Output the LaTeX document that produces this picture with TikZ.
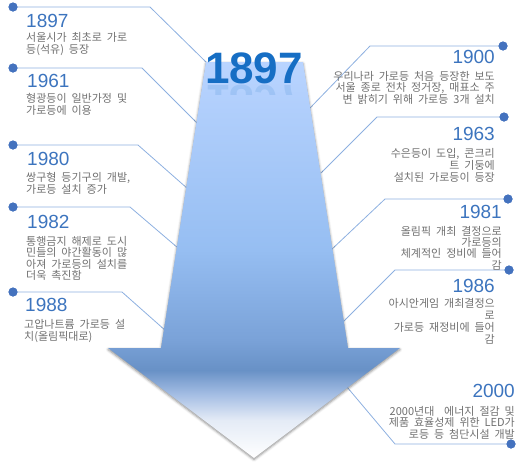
\documentclass[tikz,border=0pt]{standalone}
\usepackage{fontspec}
\setmainfont{Liberation Sans}
\newfontfamily\kr[WordSpace=2]{Noto Sans CJK KR}
\usetikzlibrary{shadows.blur}
\definecolor{lineblue}{RGB}{141,176,224}
\definecolor{dotblue}{RGB}{68,114,190}
\definecolor{yearblue}{RGB}{60,116,190}
\definecolor{txtgray}{RGB}{112,112,112}
\definecolor{bigblue}{RGB}{22,110,196}
\definecolor{sA}{RGB}{255,255,255}
\definecolor{sB}{RGB}{228,235,246}
\definecolor{sC}{RGB}{165,190,228}
\definecolor{sD}{RGB}{104,145,198}
\definecolor{sE}{RGB}{122,162,216}
\definecolor{sF}{RGB}{150,190,242}
\definecolor{sG}{RGB}{185,212,255}
\pgfdeclareverticalshading{arrowshade}{100bp}{color(0bp)=(sA); color(25bp)=(sA); color(29.8bp)=(sB); color(33bp)=(sC); color(36.1bp)=(sD); color(39.9bp)=(sE); color(51.3bp)=(sF); color(75bp)=(sG); color(100bp)=(sG)}
\tikzset{
  dot/.style={circle, fill=dotblue, inner sep=0pt, minimum size=9pt},
  conn/.style={draw=lineblue, line width=0.8pt},
  yearL/.style={anchor=base west, inner sep=0pt, text=yearblue, font=\fontsize{19}{19}\selectfont},
  yearR/.style={anchor=base east, inner sep=0pt, text=yearblue, font=\fontsize{19}{19}\selectfont},
  descL/.style={anchor=base west, inner sep=0pt, align=left, text=txtgray, font=\kr\fontsize{11}{12}\selectfont},
  descR/.style={anchor=base east, inner sep=0pt, align=right, text=txtgray, font=\kr\fontsize{11}{12}\selectfont},
}
\begin{document}
\begin{tikzpicture}[x=1pt, y=-1pt]
\useasboundingbox (0,0) rectangle (518,464);

% connector geometry
\node[dot] (d1897) at (13,7) {};
\coordinate (k1897) at (150,7);
\coordinate (e1897) at (207,63);
\node[dot] (d1961) at (13,68) {};
\coordinate (k1961) at (142,68);
\coordinate (e1961) at (197,123);
\node[dot] (d1980) at (13,145) {};
\coordinate (k1980) at (138,145);
\coordinate (e1980) at (188,189);
\node[dot] (d1982) at (13,207) {};
\coordinate (k1982) at (130,207);
\coordinate (e1982) at (178,248);
\node[dot] (d1988) at (13,292) {};
\coordinate (k1988) at (122,292);
\coordinate (e1988) at (166,331);

\node[dot] (d1900) at (503,46) {};
\coordinate (k1900) at (370,46);
\coordinate (e1900) at (310,108);
\node[dot] (d1963) at (504,117) {};
\coordinate (k1963) at (377,117);
\coordinate (e1963) at (321,173);
\node[dot] (d1981) at (508,199) {};
\coordinate (k1981) at (385,199);
\coordinate (e1981) at (331,250);
\node[dot] (d1986) at (509,270) {};
\coordinate (k1986) at (395,270);
\coordinate (e1986) at (343,322);
\node[dot] (d2000) at (511,444) {};
\coordinate (k2000) at (395,444);
\coordinate (e2000) at (347,387);

\foreach \y in {1897,1961,1980,1982,1988,1900,1963,1981,1986,2000}
  \draw[conn] (d\y.center) -- (k\y) -- (e\y);
\foreach \y in {1897,1961,1980,1982,1988,1900,1963,1981,1986,2000}
  \node[dot] at (d\y) {};

% big arrow
\coordinate (TL) at (206,62);
\coordinate (TR) at (303,62);
\coordinate (BR) at (348,348);
\coordinate (HR) at (400,348);
\coordinate (TIP) at (254,458);
\coordinate (HL) at (108,348);
\coordinate (BL) at (161,348);
\path[shading=arrowshade, blur shadow={shadow xshift=0pt, shadow yshift=-1.5pt, shadow blur radius=2.5pt, shadow opacity=45}]
  (TL) -- (TR) -- (BR) -- (HR) -- (TIP) -- (HL) -- (BL) -- cycle;

% big title with reflection
\node[anchor=base, inner sep=0pt, text=bigblue, font=\bfseries\fontsize{44}{44}\selectfont] (big) at (254,83) {1897};
\begin{scope}
  \clip (200,84) rectangle (310,94);
  \node[anchor=base, inner sep=0pt, yscale=-1, text=bigblue, text opacity=0.13, font=\bfseries\fontsize{44}{44}\selectfont] (bigr) at (254,85) {1897};
\end{scope}

% left texts (anchor = baseline of last line)
\node[yearL] (t1897) at (26,27) {1897};
\node[descL] (x1897) at (26,53) {서울시가 최초로 가로\\등(석유) 등장};
\node[yearL] (t1961) at (27,87) {1961};
\node[descL] (x1961) at (26,114.5) {형광등이 일반가정 및\\가로등에 이용};
\node[yearL] (t1980) at (27,165) {1980};
\node[descL] (x1980) at (26,193) {쌍구형 등기구의 개발,\\가로등 설치 증가};
\node[yearL] (t1982) at (27,228) {1982};
\node[descL, font=\kr\fontsize{11}{11.5}\selectfont] (x1982) at (26,279.5) {통행금지 해제로 도시\\민들의 야간활동이 많\\아져 가로등의 설치를\\더욱 촉진함};
\node[yearL] (t1988) at (25,311) {1988};
\node[descL] (x1988) at (24,340) {고압나트륨 가로등 설\\치(올림픽대로)};

% right texts
\node[yearR] (t1900) at (495,63) {1900};
\node[descR, font=\kr\fontsize{11}{11.5}\selectfont] (x1900) at (495,103) {우리나라 가로등 처음 등장한 보도\\서울 종로 전차 정거장, 매표소 주\\변 밝히기 위해 가로등 3개 설치};
\node[yearR] (t1963) at (495,140) {1963};
\node[descR] (x1963) at (495,181) {수은등이 도입, 콘크리\\트 기둥에\\설치된 가로등이 등장};
\node[yearR] (t1981) at (502,218) {1981};
\node[descR, font=\kr\fontsize{11}{11.3}\selectfont] (x1981) at (502,269) {올림픽 개최 결정으로\\가로등의\\체계적인 정비에 들어\\감};
\node[yearR] (t1986) at (495,292) {1986};
\node[descR] (x1986) at (495,343) {아시안게임 개최결정으\\로\\가로등 재정비에 들어\\감};
\node[yearR] (t2000) at (515,397) {2000};
\node[descR, font=\kr\fontsize{11}{11.5}\selectfont] (x2000) at (515,438) {2000년대\ \ 에너지 절감 및\\제품 효율성제 위한 LED가\\로등 등 첨단시설 개발};
\end{tikzpicture}
\end{document}
